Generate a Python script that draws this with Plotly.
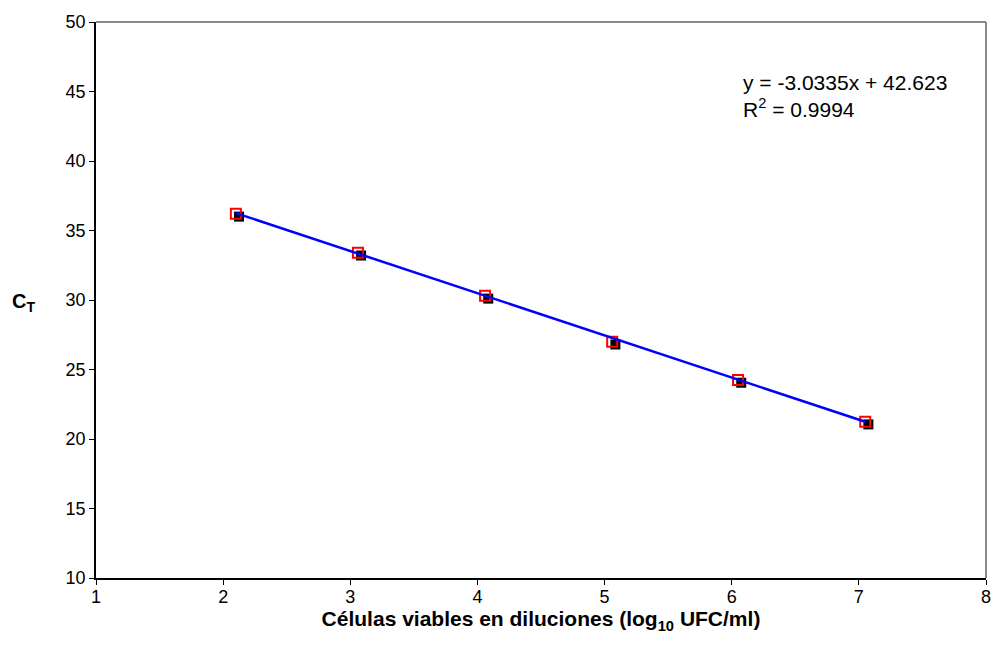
import plotly.graph_objects as go

# Data
x_red = [2.10, 3.06, 4.06, 5.06, 6.05, 7.05]
y_red = [36.2, 33.4, 30.3, 27.0, 24.25, 21.25]
x_black = [2.125, 3.085, 4.085, 5.085, 6.075, 7.075]
y_black = [36.0, 33.2, 30.1, 26.8, 24.05, 21.05]
slope = -3.0335
intercept = 42.623
r2 = 0.9994

x_ticks = [1, 2, 3, 4, 5, 6, 7, 8]
y_ticks = [10, 15, 20, 25, 30, 35, 40, 45, 50]

x_line = [min(x_red), max(x_red)]
y_line = [slope * v + intercept for v in x_line]

FONT = "Liberation Sans"

fig = go.Figure()
fig.add_trace(go.Scatter(
    x=x_black, y=y_black, mode="markers",
    marker=dict(symbol="square", size=10, color="black", line=dict(width=0)),
    showlegend=False, hoverinfo="skip"))
fig.add_trace(go.Scatter(
    x=x_red, y=y_red, mode="markers",
    marker=dict(symbol="square-open", size=10, color="red", line=dict(width=2, color="red")),
    showlegend=False))
fig.add_trace(go.Scatter(
    x=x_line, y=y_line, mode="lines",
    line=dict(color="#0000FF", width=2.5),
    showlegend=False, hoverinfo="skip"))

fig.update_layout(
    width=996, height=650,
    margin=dict(l=96, r=5, t=22, b=72),
    paper_bgcolor="white", plot_bgcolor="white",
    font=dict(family=FONT, size=18, color="black"),
    xaxis=dict(range=[1, 8], tickvals=x_ticks, showgrid=False, zeroline=False,
               showline=True, linecolor="black", linewidth=1.5,
               ticks="outside", ticklen=5, tickcolor="black",
               ticklabeloverflow="allow", ticklabelstandoff=-3,
               tickfont=dict(family=FONT, size=18),
               title=dict(text="<b>Células viables en diluciones (log<sub>10</sub> UFC/ml)</b>",
                          font=dict(family=FONT, size=21), standoff=4)),
    yaxis=dict(range=[10, 50], tickvals=y_ticks, showgrid=False, zeroline=False,
               showline=True, linecolor="black", linewidth=1.5,
               ticks="outside", ticklen=5, tickcolor="black",
               tickfont=dict(family=FONT, size=18)),
    shapes=[
        dict(type="line", xref="paper", yref="paper", x0=0, x1=1, y0=1, y1=1,
             line=dict(color="#606060", width=1.5)),
        dict(type="line", xref="paper", yref="paper", x0=1, x1=1, y0=0, y1=1,
             line=dict(color="#606060", width=1.5)),
    ],
    annotations=[
        dict(text="<b>C<sub>T</sub></b>", xref="paper", yref="paper",
             x=-0.082, y=0.495, xanchor="center", yanchor="middle",
             showarrow=False, font=dict(family=FONT, size=20)),
        dict(text=f"y = {slope}x + {intercept}<br>R<sup>2</sup> = {r2}",
             xref="x", yref="y", x=6.07, y=46.6, xanchor="left", yanchor="top",
             align="left", showarrow=False, font=dict(family=FONT, size=21)),
    ],
)

fig.write_html("out.html")
